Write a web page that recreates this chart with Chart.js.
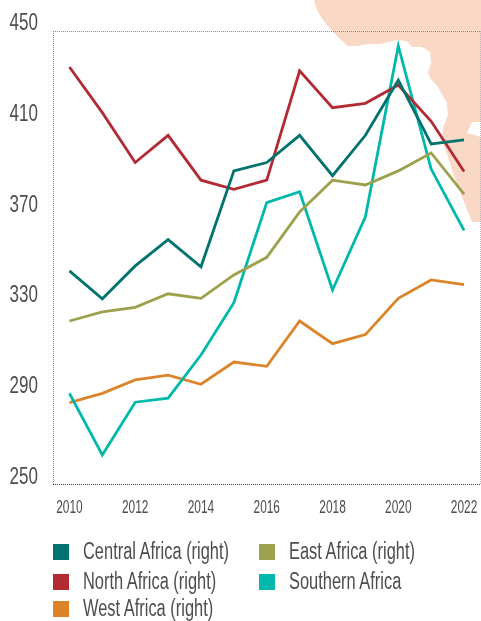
<!DOCTYPE html>
<html><head><meta charset="utf-8">
<script src="https://cdn.jsdelivr.net/npm/chart.js@4"></script>
<style>
html,body{margin:0;padding:0;background:#fff;overflow:hidden}
#wrap{position:relative;width:481px;height:621px;overflow:hidden}
canvas{display:block}
.lg{position:absolute;font:23px "Liberation Sans",sans-serif;color:#4d4d4f;white-space:nowrap;line-height:24px;height:24px;transform:scaleX(.714);transform-origin:0 50%}
.sw{position:absolute;width:16px;height:16px}
</style></head><body>
<div id="wrap"><canvas id="c" width="481" height="621"></canvas></div>
<script>
const years=[2010,2011,2012,2013,2014,2015,2016,2017,2018,2019,2020,2021,2022];
const yTicks=[250,290,330,370,410,450];
const xTicks=[2010,2012,2014,2016,2018,2020,2022];
const central=[344.2,331.9,346.4,358,346,388.3,392,404,386.2,404,428.3,400.2,402];
const east=[322.1,326.1,328.1,334.1,332.1,342.4,350.2,370.2,384.2,382.1,388.3,396.2,378.1];
const north=[434.1,414,392,404,384.2,380.2,384.2,432.4,416.2,418.1,426.2,410.2,388];
const southern=[290.2,263,286.3,288.1,307.1,330.2,374.3,379.1,335.8,368.1,443.4,389.1,362.1];
const west=[286.1,290.2,296.1,298.2,294.2,304,302.1,322.1,312.1,316.1,332.1,340.2,338.1];
const names=["Central Africa (right)","East Africa (right)","North Africa (right)","Southern Africa","West Africa (right)"];
const colours=["#00736f","#9da04d","#b22a33","#00b9ab","#db8429"];
const seriesValues=[central,east,north,southern,west];
const mapOutline=[[314,0],[317,10],[323,20],[332,31],[340,39],[348,46],[357,46],[367,44],[380,44],[397,40],[407,41],[412,47],[422,47],[430,52],[431,63],[428,72],[430,78],[438,87],[447,103],[448,115],[443,128],[442,140],[448,157],[453,173],[462,197],[470,217],[472,222],[481,222],[481,137],[467,133],[472,122],[481,122],[481,0]];
const mapBackdrop={id:'mapBackdrop',beforeDraw(chart){
  const g=chart.ctx;g.save();g.fillStyle='#f9d8c5';g.beginPath();
  mapOutline.forEach((p,i)=>i?g.lineTo(p[0],p[1]):g.moveTo(p[0],p[1]));
  g.closePath();g.fill();g.restore();
}};
const sans='"Liberation Sans",sans-serif';
const canvas=document.getElementById('c');
const g2=canvas.getContext('2d');
const rawFill=g2.fillText.bind(g2);
g2.fillText=(t,x,y)=>rawFill(t,x,y,g2.measureText(t).width*(g2.font.startsWith('23')?.74:.66));
const xMin=2009.5,xMax=2022.5;
new Chart(canvas,{
  type:'line',
  data:{datasets:names.map((n,i)=>({label:n,data:years.map((y,j)=>({x:y,y:seriesValues[i][j]})),borderColor:colours[i],backgroundColor:colours[i],borderWidth:2.8,pointRadius:0,tension:0,fill:false,borderJoinStyle:'miter',borderCapStyle:'butt'}))},
  options:{responsive:false,animation:false,
    layout:{padding:{top:31,left:0,right:0.5,bottom:0}},
    plugins:{legend:{display:false},tooltip:{enabled:false}},
    scales:{
      x:{type:'linear',min:xMin,max:xMax,
        afterBuildTicks(a){a.ticks=[xMin,...xTicks,xMax].map(v=>({value:v}));},
        afterFit(a){a.height=136.5;a.paddingLeft=0;a.paddingRight=0;},
        grid:{drawTicks:false,color:c=>c.tick&&(c.tick.value===xMin||c.tick.value===xMax)?(c.tick.value===xMin?'#8c8c8c':'#b5b5b5'):'rgba(0,0,0,0)'},
        border:{display:false,dash:[1,1]},
        ticks:{autoSkip:false,maxRotation:0,padding:13,color:'#4d4d4f',font:{family:sans,size:18},callback:v=>Number.isInteger(v)?String(v):''}},
      y:{min:250,max:450,
        afterBuildTicks(a){a.ticks=yTicks.map(v=>({value:v}));},
        afterFit(a){a.width=53;},
        grid:{drawTicks:false,color:c=>!c.tick?'rgba(0,0,0,0)':c.tick.value===450?'#8c8c8c':c.tick.value===250?'#444':'rgba(0,0,0,0)'},
        border:{display:false,dash:[1,1]},
        ticks:{padding:15,labelOffset:-7,color:'#4d4d4f',font:{family:sans,size:23},callback:v=>String(v)}}
    }
  },
  plugins:[mapBackdrop]
});
const slots=[[53,544],[259,544],[53,574],[259,574],[53,601]];
const wrap=document.getElementById('wrap');
names.forEach((n,i)=>{
  const s=document.createElement('div');s.className='sw';s.style.left=slots[i][0]+'px';s.style.top=slots[i][1]+'px';s.style.background=colours[i];wrap.appendChild(s);
  const t=document.createElement('div');t.className='lg';t.textContent=n;t.style.left=(slots[i][0]+30)+'px';t.style.top=(slots[i][1]-5)+'px';wrap.appendChild(t);
});
</script>
</body></html>
